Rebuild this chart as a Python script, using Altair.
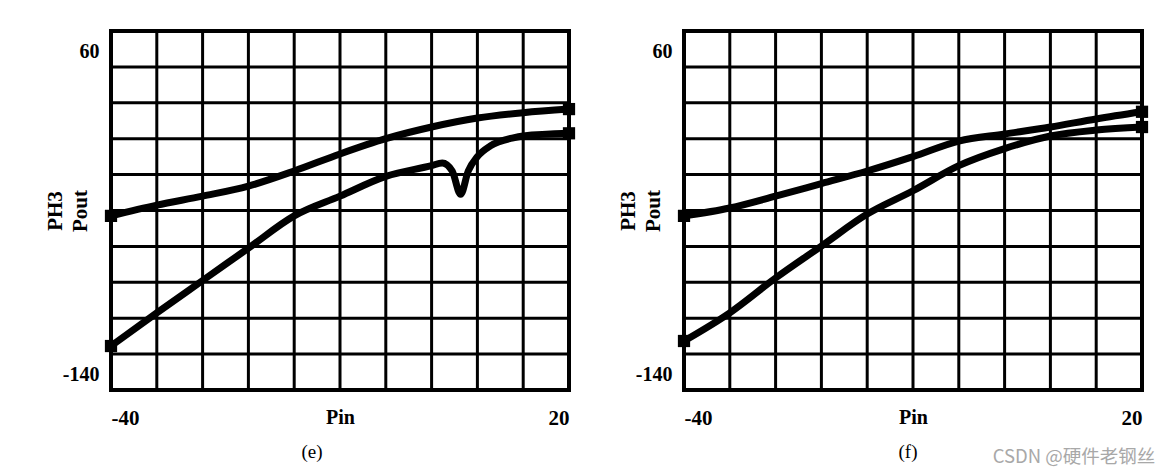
import altair as alt
import pandas as pd

# ---- axis ticks / labels ----
x_ticks = [-40, -34, -28, -22, -16, -10, -4, 2, 8, 14, 20]
y_ticks = [-140, -120, -100, -80, -60, -40, -20, 0, 20, 40, 60]
x_title = "Pin"
y_title = ["PH3", "Pout"]
captions = ["(e)", "(f)"]
watermark = "CSDN @硬件老钢丝"

# ---- panel (e) ----
e_upper_x = [-40, -34, -28, -22, -16, -10, -4, 2, 8, 14, 20]
e_upper_y = [-43, -37, -32, -26.4, -18, -8.5, 0, 6.5, 11.5, 14.5, 16.5]
e_lower_x = [-40, -34, -28, -22, -16, -10, -4, 2, 3.4, 4.7, 5.8, 6.8, 8, 9.7, 12.7, 14, 20]
e_lower_y = [-115.5, -97, -79, -61, -43, -32, -21, -15, -13.5, -18, -31, -18, -10, -4, 0.5, 1.5, 3]

# ---- panel (f) ----
f_upper_x = [-40, -34, -28, -22, -16, -10, -4, 2, 8, 14, 20]
f_upper_y = [-43, -38.6, -32, -25, -18, -10, -1.3, 2.6, 6.5, 11, 15]
f_lower_x = [-40, -34, -28, -22, -16, -10, -4, 2, 8, 14, 20]
f_lower_y = [-112.7, -97, -77.6, -59.8, -42, -29, -15, -5.5, 1.5, 4.8, 6.5]

SERIF = "Liberation Serif"
W, H = 458, 359

xscale = alt.Scale(domain=[x_ticks[0], x_ticks[-1]], nice=False, zero=False)
yscale = alt.Scale(domain=[y_ticks[0], y_ticks[-1]], nice=False, zero=False)

x_axis = alt.Axis(
    values=[x_ticks[0], x_ticks[-1]], grid=False, ticks=False, domain=False,
    labelOverlap=False, labelExpr="'' + datum.value",
    labelFlush=True, labelFont=SERIF, labelFontSize=21, labelFontWeight="bold",
    labelColor="black", labelPadding=17, labelBaseline="top",
    title=x_title, titleFont=SERIF, titleFontSize=20, titleFontWeight="bold",
    titleColor="black", titleY=17, titleBaseline="top",
)
y_axis = alt.Axis(
    values=[y_ticks[0], y_ticks[-1]], grid=False, ticks=False, domain=False,
    labelOverlap=False, labelExpr="'' + datum.value",
    labelFlush=True, labelFlushOffset=-8, labelOffset=2.5,
    labelFont=SERIF, labelFontSize=20, labelFontWeight="bold",
    labelColor="black", labelPadding=12,
    title=y_title, titleFont=SERIF, titleFontSize=21, titleFontWeight="bold",
    titleColor="black", titleAngle=270, titleBaseline="middle", titleAlign="center",
    titleX=-55.5, titleY=H / 2, titleLineHeight=25,
)


def panel(ux, uy, lx, ly, caption, caption_x, with_watermark=False):
    df = pd.DataFrame({
        "Pin": ux + lx,
        "Pout": uy + ly,
        "curve": ["upper"] * len(ux) + ["lower"] * len(lx),
    })
    ends = df[df["Pin"].isin([x_ticks[0], x_ticks[-1]])]

    X = alt.X("Pin:Q", scale=xscale, axis=x_axis)
    Y = alt.Y("Pout:Q", scale=yscale, axis=y_axis)

    vgrid = alt.Chart(pd.DataFrame({"Pin": x_ticks})).mark_rule(
        color="black", strokeWidth=3).encode(x=X)
    hgrid = alt.Chart(pd.DataFrame({"Pout": y_ticks})).mark_rule(
        color="black", strokeWidth=3).encode(y=Y)

    lines = alt.Chart(df).mark_line(color="black", strokeWidth=7, interpolate="monotone",
                                    strokeJoin="round").encode(x=X, y=Y, detail="curve:N")
    squares = alt.Chart(ends).mark_square(color="black", size=150, opacity=1).encode(
        x=X, y=Y)
    cap = alt.Chart(pd.DataFrame({"t": [caption]})).mark_text(
        font=SERIF, fontSize=19, color="black", align="center", baseline="middle",
    ).encode(x=alt.value(caption_x), y=alt.value(421), text="t:N")
    layers = [vgrid, hgrid, lines, squares, cap]
    if with_watermark:
        wm = alt.Chart(pd.DataFrame({"t": [watermark]})).mark_text(
            font="Noto Sans CJK SC", fontSize=18.5, color="#a8a8a8",
            align="center", baseline="middle",
        ).encode(x=alt.value(390), y=alt.value(426), text="t:N")
        layers.append(wm)
    return alt.layer(*layers).properties(width=W, height=H)


left = panel(e_upper_x, e_upper_y, e_lower_x, e_lower_y, captions[0], 201)
right = panel(f_upper_x, f_upper_y, f_lower_x, f_lower_y, captions[1], 224, True)

chart = alt.hconcat(left, right, spacing=115, bounds="flush").properties(
    padding={"left": 42, "top": 27, "right": 5, "bottom": 5},
    background="white",
).configure_view(stroke="black", strokeWidth=4)

chart.save("out.html", embed_options={"renderer": "svg", "actions": False})
